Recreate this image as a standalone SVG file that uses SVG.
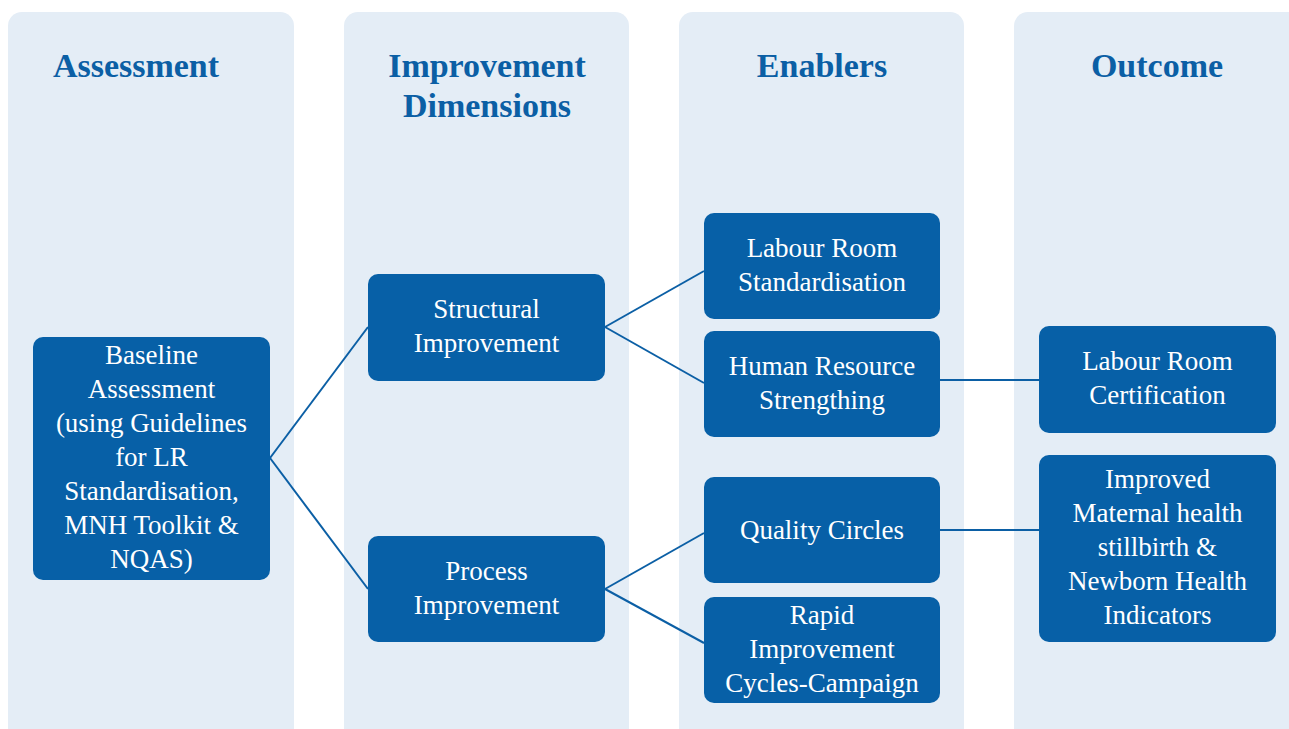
<svg xmlns="http://www.w3.org/2000/svg" width="1289" height="729" viewBox="0 0 1289 729">
<style>
.col{fill:#e4edf6}
.hdr{font-family:"Liberation Serif",serif;font-weight:bold;font-size:34px;fill:#0b5fa5;text-anchor:middle}
.box{fill:#0760a7}
.lbl{font-family:"Liberation Serif",serif;font-size:27px;fill:#ffffff;text-anchor:middle}
.con{stroke:#0b5fa5;stroke-width:2;fill:none}
</style>
<rect width="1289" height="729" fill="#ffffff"/>
<g id="columns">
<rect class="col" x="8" y="12" width="286" height="740" rx="14"/>
<rect class="col" x="344" y="12" width="285" height="740" rx="14"/>
<rect class="col" x="679" y="12" width="285" height="740" rx="14"/>
<rect class="col" x="1014" y="12" width="300" height="740" rx="14"/>
<text class="hdr" x="136" y="77">Assessment</text>
<text class="hdr" x="487" y="77">Improvement</text>
<text class="hdr" x="487" y="117">Dimensions</text>
<text class="hdr" x="822" y="77">Enablers</text>
<text class="hdr" x="1157" y="77">Outcome</text>
</g>
<g id="connectors">
<line class="con" x1="270" y1="458" x2="368" y2="327"/>
<line class="con" x1="270" y1="458" x2="368" y2="589"/>
<line class="con" x1="605" y1="327" x2="704" y2="271"/>
<line class="con" x1="605" y1="327" x2="704" y2="383"/>
<line class="con" x1="605" y1="589" x2="704" y2="533"/>
<line class="con" x1="605" y1="589" x2="704" y2="643"/>
<line class="con" x1="940" y1="380" x2="1039" y2="380"/>
<line class="con" x1="940" y1="530" x2="1039" y2="530"/>
</g>
<g id="baseline">
<rect class="box" x="33" y="337" width="237" height="243" rx="10"/>
<text class="lbl" x="151.5" y="364">Baseline</text>
<text class="lbl" x="151.5" y="398">Assessment</text>
<text class="lbl" x="151.5" y="432">(using Guidelines</text>
<text class="lbl" x="151.5" y="466">for LR</text>
<text class="lbl" x="151.5" y="500">Standardisation,</text>
<text class="lbl" x="151.5" y="534">MNH Toolkit &amp;</text>
<text class="lbl" x="151.5" y="568">NQAS)</text>
</g>
<g id="structural">
<rect class="box" x="368" y="274" width="237" height="107" rx="10"/>
<text class="lbl" x="486.5" y="318">Structural</text>
<text class="lbl" x="486.5" y="352">Improvement</text>
</g>
<g id="process">
<rect class="box" x="368" y="536" width="237" height="106" rx="10"/>
<text class="lbl" x="486.5" y="580">Process</text>
<text class="lbl" x="486.5" y="614">Improvement</text>
</g>
<g id="lr-standardisation">
<rect class="box" x="704" y="213" width="236" height="106" rx="10"/>
<text class="lbl" x="822" y="257">Labour Room</text>
<text class="lbl" x="822" y="291">Standardisation</text>
</g>
<g id="hr-strengthing">
<rect class="box" x="704" y="331" width="236" height="106" rx="10"/>
<text class="lbl" x="822" y="375">Human Resource</text>
<text class="lbl" x="822" y="409">Strengthing</text>
</g>
<g id="quality-circles">
<rect class="box" x="704" y="477" width="236" height="106" rx="10"/>
<text class="lbl" x="822" y="539">Quality Circles</text>
</g>
<g id="rapid-improvement">
<rect class="box" x="704" y="597" width="236" height="106" rx="10"/>
<text class="lbl" x="822" y="624">Rapid</text>
<text class="lbl" x="822" y="658">Improvement</text>
<text class="lbl" x="822" y="692">Cycles-Campaign</text>
</g>
<g id="lr-certification">
<rect class="box" x="1039" y="326" width="237" height="107" rx="10"/>
<text class="lbl" x="1157.5" y="370">Labour Room</text>
<text class="lbl" x="1157.5" y="404">Certification</text>
</g>
<g id="improved-indicators">
<rect class="box" x="1039" y="455" width="237" height="187" rx="10"/>
<text class="lbl" x="1157.5" y="488">Improved</text>
<text class="lbl" x="1157.5" y="522">Maternal health</text>
<text class="lbl" x="1157.5" y="556">stillbirth &amp;</text>
<text class="lbl" x="1157.5" y="590">Newborn Health</text>
<text class="lbl" x="1157.5" y="624">Indicators</text>
</g>
</svg>
